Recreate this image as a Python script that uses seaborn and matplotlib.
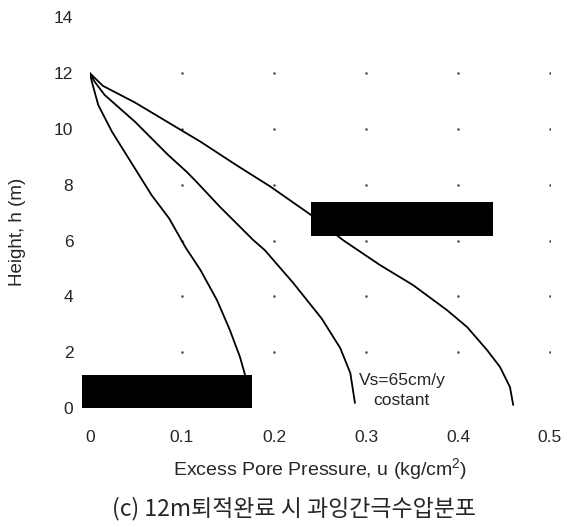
import matplotlib
matplotlib.use("Agg")
import matplotlib.pyplot as plt
from matplotlib.patches import Rectangle
import numpy as np
import pandas as pd
import seaborn as sns

# Excess pore pressure profiles after 12 m of deposition
h_a = [12, 11.7, 10.86, 9.9, 8.95, 7.63, 6.8, 5.75, 4.95, 3.87, 2.8, 1.83, 1.25, 0.6, 0.0]
u_a = [0, 0.002, 0.009, 0.024, 0.042, 0.067, 0.086, 0.104, 0.120, 0.138, 0.152, 0.163, 0.168, 0.172, 0.175]

h_b = [12, 11.7, 11.22, 10.26, 9.07, 8.47, 8.17, 7.22, 6.02, 5.66, 4.48, 3.2, 2.15, 1.25, 0.18]
u_b = [0, 0.005, 0.016, 0.049, 0.085, 0.105, 0.114, 0.141, 0.1775, 0.190, 0.221, 0.252, 0.272, 0.283, 0.288]

h_c = [12, 11.55, 10.95, 10.2, 9.55, 8.71, 7.94, 6.95, 6.02, 5.13, 4.41, 3.51, 2.90, 2.08, 1.47, 0.75, 0.11]
u_c = [0, 0.014, 0.049, 0.087, 0.120, 0.159, 0.196, 0.239, 0.275, 0.315, 0.351, 0.388, 0.410, 0.4315, 0.4457, 0.4565, 0.460]

x_ticks = [0, 0.1, 0.2, 0.3, 0.4, 0.5]
x_tick_labels = ["0", "0.1", "0.2", "0.3", "0.4", "0.5"]
y_ticks = [0, 2, 4, 6, 8, 10, 12, 14]

note_text = "Vs=65cm/y\ncostant"
x_label = "Excess Pore Pressure, u (kg/cm$^2$)"
y_label = "Height, h (m)"
caption = "(c) 12m퇴적완료 시 과잉간극수압분포"

sns.set_style("white")
plt.rcParams["font.family"] = ["Liberation Sans", "DejaVu Sans"]
plt.rcParams["mathtext.fontset"] = "custom"
plt.rcParams["mathtext.rm"] = "Liberation Sans"

frames = []
for name, u, h in (("a", u_a, h_a), ("b", u_b, h_b), ("c", u_c, h_c)):
    frames.append(pd.DataFrame({"u": u, "h": h, "case": name}))
df = pd.concat(frames, ignore_index=True)

fig = plt.figure(figsize=(5.67, 5.27), dpi=100)
ax = fig.add_axes([0.1587, 0.2258, 0.8113, 0.741])

sns.lineplot(data=df, x="u", y="h", units="case", estimator=None, sort=False,
             color="black", linewidth=1.3, ax=ax, legend=False)

ax.set_xlim(0, 0.5)
ax.set_ylim(0, 14)
ax.set_xticks(x_ticks)
ax.set_xticklabels(x_tick_labels)
ax.set_yticks(y_ticks)
ax.tick_params(axis="x", length=0, pad=16, labelsize=12.5)
ax.tick_params(axis="y", length=0, pad=12, labelsize=12.5)
for s in ax.spines.values():
    s.set_visible(False)

# dotted grid: small points at interior tick intersections
gx, gy = np.meshgrid(x_ticks[1:], y_ticks[1:-1])
ax.plot(gx.ravel(), gy.ravel(), linestyle="none", marker=".", markersize=1.6,
        color="#444444", zorder=1)

ax.set_xlabel(x_label, fontsize=14, labelpad=8)
ax.set_ylabel(y_label, fontsize=13.5)
ax.yaxis.set_label_coords(-0.14, 0.45)

ax.text(0.339, 0.64, note_text, ha="center", va="center", fontsize=12.5,
        linespacing=1.4)

# filled boxes over the legend areas
ax.add_patch(Rectangle((-0.017, 0.0), 0.369, 0.0845, transform=ax.transAxes,
                       facecolor="black", edgecolor="none", clip_on=False, zorder=5))
ax.add_patch(Rectangle((0.480, 0.440), 0.396, 0.087, transform=ax.transAxes,
                       facecolor="black", edgecolor="none", clip_on=False, zorder=5))

fig.text(0.518, 0.035, caption, ha="center", va="center", fontsize=16.5,
         fontweight="medium", family=["Noto Sans CJK KR", "DejaVu Sans"])

fig.savefig("out.png", dpi=100)
